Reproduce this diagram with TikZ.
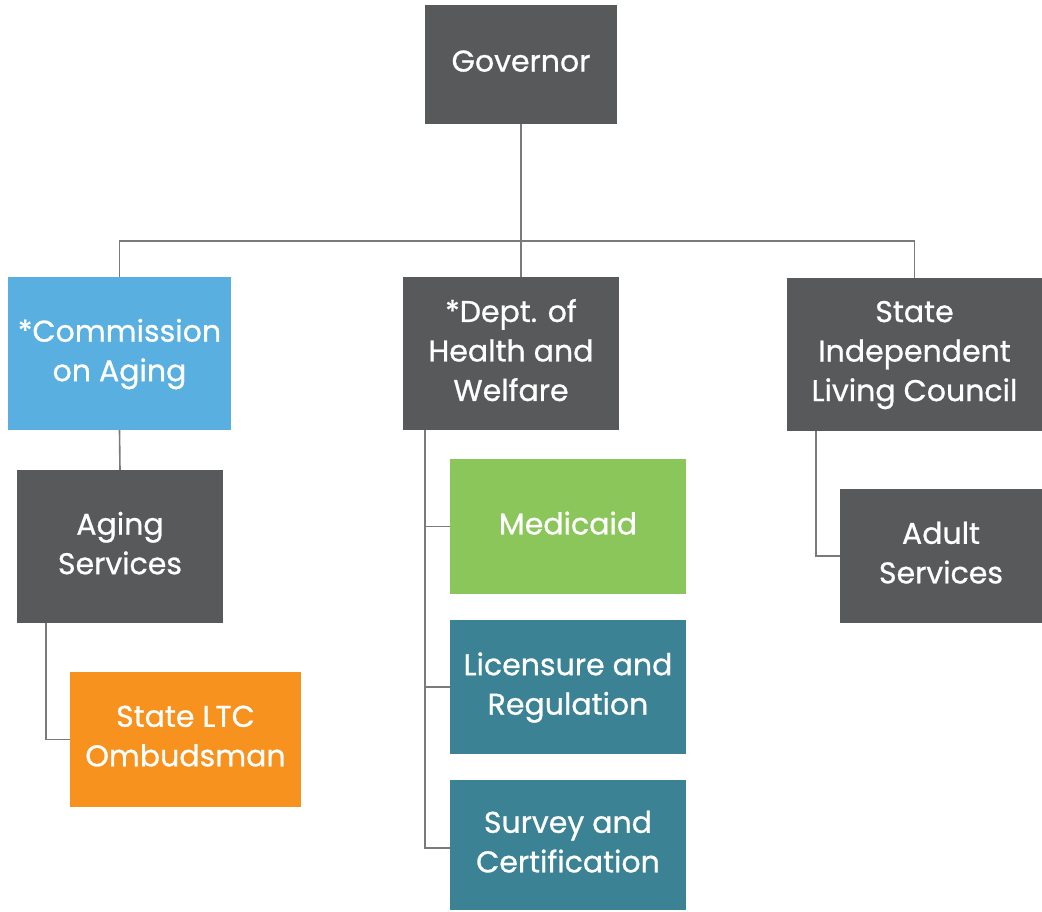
\documentclass[tikz,border=0pt]{standalone}
\usepackage{fontspec}
\setmainfont{Poppins}[RawFeature={embolden=0.8}]
\usetikzlibrary{positioning}

\definecolor{boxgray}{HTML}{58595B}
\definecolor{aging}{HTML}{5AAFE1}
\definecolor{medgreen}{HTML}{8BC65B}
\definecolor{ltcorange}{HTML}{F7921E}
\definecolor{teal}{HTML}{3B8295}
\definecolor{linegray}{HTML}{7A7A7A}

\begin{document}
\begin{tikzpicture}[x=1pt, y=-1pt,
every node/.style={},
unit/.style={rectangle, fill=boxgray, text=white, inner sep=0pt, align=center,
  text depth=7pt, font=\fontsize{30}{39.5}\selectfont},
blue/.style={fill=aging},
green/.style={fill=medgreen},
orange/.style={fill=ltcorange},
tealbox/.style={fill=teal},
link/.style={draw=linegray, line width=1.6pt}
]
\useasboundingbox (0,0) rectangle (1042,911);

\node [unit, minimum width=192pt, minimum height=119pt] (gov) at (521,64.5) {Governor};

\node [unit, blue, minimum width=223pt, minimum height=153pt] (coa) at (119.5,353.5) {*Commission\\on Aging};
\node [unit, minimum width=216pt, minimum height=153pt] (dhw) at (511,353.5) {*Dept. of\\Health and\\Welfare};
\node [unit, minimum width=255pt, minimum height=153pt] (silc) at (914.5,354.5) {State\\Independent\\Living Council};

\node [unit, minimum width=206pt, minimum height=153pt] (agsvc) at (120,546.5) {Aging\\Services};
\node [unit, orange, minimum width=231pt, minimum height=135pt] (ltc) at (185.5,739.5) {State LTC\\Ombudsman};

\node [unit, green, minimum width=236pt, minimum height=135pt] (medicaid) at (568,526.5) {Medicaid};
\node [unit, tealbox, minimum width=236pt, minimum height=134pt] (licensure) at (568,687) {Licensure and\\Regulation};
\node [unit, tealbox, minimum width=236pt, minimum height=130pt] (survey) at (568,845) {Survey and\\Certification};

\node [unit, minimum width=202pt, minimum height=134pt] (adult) at (941,556) {Adult\\Services};

\draw [link] (gov.south) -- (gov.south |- dhw.north);
\draw [link] (coa.north) -- ++(0,-36) -| (silc.north);
\draw [link] (coa.south) -- (agsvc.north);
\draw [link] ([xshift=29pt]agsvc.south west) |- (ltc.west);

\draw [link] ([xshift=22pt]dhw.south west) |- (medicaid.west);
\draw [link] ([xshift=22pt]dhw.south west) |- (licensure.west);
\draw [link] ([xshift=22pt]dhw.south west) |- ([yshift=-3pt]survey.west);

\draw [link] ([xshift=29pt]silc.south west) |- (adult.west);

\end{tikzpicture}
\end{document}
